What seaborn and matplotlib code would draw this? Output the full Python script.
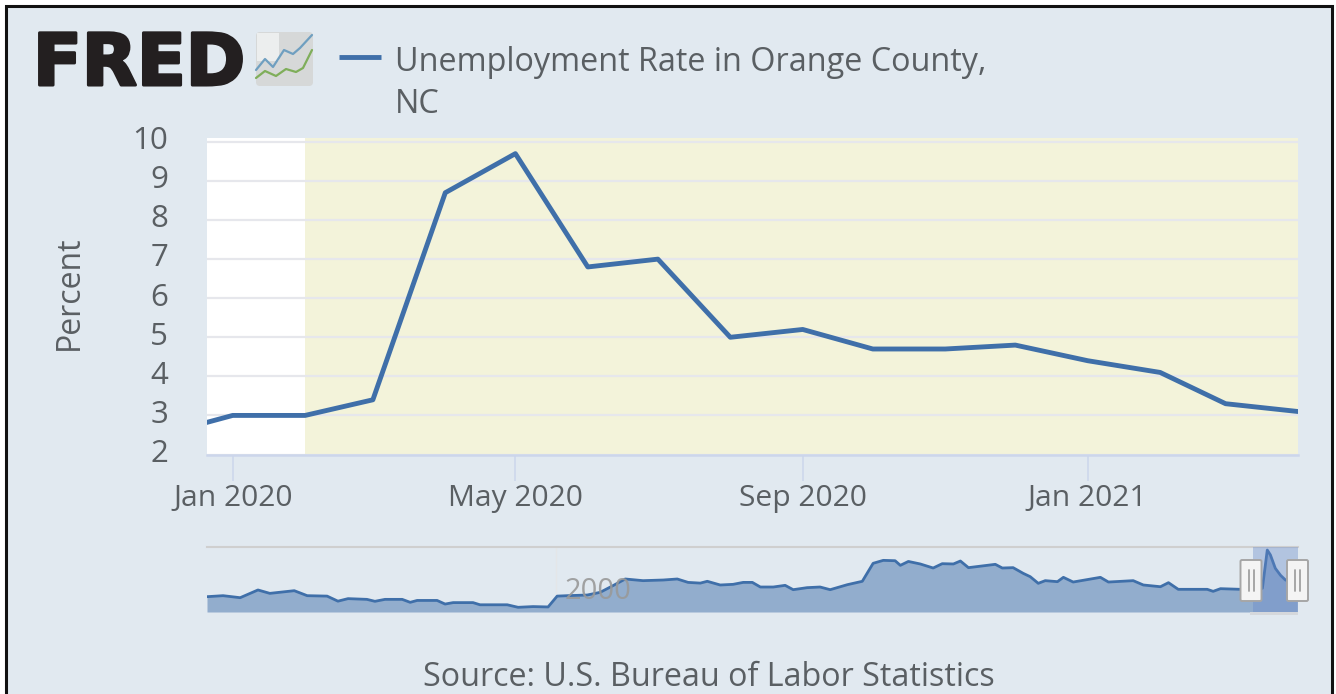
import numpy as np
import pandas as pd
import matplotlib.pyplot as plt
import matplotlib.patches as mpatches
import matplotlib.patheffects as pe
from matplotlib.transforms import ScaledTranslation
import seaborn as sns

# main series
months = ['2019-12-01', '2020-01-01', '2020-02-01', '2020-03-01', '2020-04-01', '2020-05-01',
          '2020-06-01', '2020-07-01', '2020-08-01', '2020-09-01', '2020-10-01', '2020-11-01',
          '2020-12-01', '2021-01-01', '2021-02-01', '2021-03-01', '2021-04-01']
rate = [2.5, 3.0, 3.0, 3.4, 8.7, 9.7, 6.8, 7.0, 5.0, 5.2, 4.7, 4.7, 4.8, 4.4, 4.1, 3.3, 3.1]
tick_dates = ['2020-01-01', '2020-05-01', '2020-09-01', '2021-01-01']
tick_labels = ['Jan 2020', 'May 2020', 'Sep 2020', 'Jan 2021']
y_ticks = [2, 3, 4, 5, 6, 7, 8, 9, 10]

# navigator series
nav_year = [1990.0, 1990.46, 1990.95, 1991.46, 1991.8, 1992.5, 1992.87, 1993.44, 1993.75, 1994.04,
            1994.58, 1994.81, 1995.1, 1995.59, 1995.82, 1996.02, 1996.59, 1996.82, 1997.05, 1997.62,
            1997.82, 1998.6, 1998.91, 1999.34, 1999.77, 2000.03, 2000.32, 2000.89, 2001.26, 2001.63,
            2001.98, 2002.49, 2003.07, 2003.47, 2003.78, 2004.13, 2004.33, 2004.7, 2005.07, 2005.36,
            2005.62, 2005.85, 2006.22, 2006.56, 2006.79, 2007.19, 2007.56, 2007.85, 2008.34, 2008.77,
            2009.08, 2009.37, 2009.71, 2009.86, 2010.09, 2010.43, 2010.8, 2011.06, 2011.38, 2011.58,
            2011.81, 2012.58, 2012.78, 2013.09, 2013.38, 2013.58, 2013.81, 2014.01, 2014.36, 2014.53,
            2014.81, 2015.59, 2015.82, 2016.53, 2016.82, 2017.31, 2017.54, 2017.82, 2018.65, 2018.82,
            2019.03, 2019.6, 2019.97, 2020.23, 2020.37, 2020.46, 2020.6, 2020.75, 2020.89, 2021.23]
nav_rate = [3.12, 3.26, 2.98, 4.05, 3.58, 3.95, 3.26, 3.2, 2.5, 2.85,
            2.75, 2.48, 2.75, 2.75, 2.34, 2.6, 2.6, 2.1, 2.3, 2.3,
            2.0, 2.0, 1.65, 1.75, 1.7, 3.2, 3.26, 3.35, 3.72, 4.65,
            5.57, 5.34, 5.43, 5.57, 5.1, 5.0, 5.25, 4.74, 4.83, 5.1,
            5.1, 4.46, 4.46, 4.69, 4.09, 4.37, 4.46, 4.09, 4.78, 5.25,
            7.74, 8.15, 8.1, 7.46, 8.0, 7.65, 7.09, 7.69, 7.65, 8.06,
            7.14, 7.6, 7.09, 7.14, 6.35, 5.89, 4.97, 5.34, 5.2, 5.8,
            5.15, 5.8, 5.15, 5.34, 4.74, 4.5, 5.06, 4.14, 4.14, 3.86,
            4.23, 4.14, 4.14, 4.28, 9.58, 8.9, 7.05, 6.08, 5.43, 5.0]

legend_lines = ['Unemployment Rate in Orange County,', 'NC']
source_text = 'Source: U.S. Bureau of Labor Statistics'

W, H = 1336, 694
BG = '#E1E9F0'
LINE = '#3F6FA9'
TXT = '#5A5F63'
AXC = '#CCD6EB'


def px_axes(fig, x0, y0, x1, y1, **kw):
    # axes from pixel box, y counted from the top
    return fig.add_axes([x0 / W, 1 - y1 / H, (x1 - x0) / W, (y1 - y0) / H], **kw)


sns.set_theme(style='white')
plt.rcParams['font.family'] = ['Open Sans', 'DejaVu Sans']

fig = plt.figure(figsize=(W / 100, H / 100), dpi=100, facecolor='white')

# background panel with black frame, open at the bottom of the picture
back = fig.add_axes([0, 0, 1, 1], zorder=0)
back.set_xlim(0, W)
back.set_ylim(H, 0)
back.axis('off')
back.add_patch(mpatches.Rectangle((6, 6), 1326, 700, facecolor=BG, edgecolor='#111111', linewidth=2.2))

# main chart
df = pd.DataFrame({'date': pd.to_datetime(months), 'rate': rate})
ax = px_axes(fig, 207, 138, 1298, 454.5, zorder=2)
ax.set_facecolor('white')
ax.axvspan(pd.Timestamp('2020-02-01'), pd.Timestamp('2021-04-01'), color='#F3F3DA', lw=0, zorder=0.2)
sns.lineplot(data=df, x='date', y='rate', ax=ax, color=LINE, linewidth=3.5, legend=False, zorder=3)
ax.set_xlim(pd.Timestamp('2019-12-21'), pd.Timestamp('2021-04-01'))
ax.set_ylim(2, 10.1)
ax.set_axisbelow(True)
ax.yaxis.grid(True, color='#E6E7EC', linewidth=1.6)
ax.xaxis.grid(False)
ax.set_xticks(pd.to_datetime(tick_dates))
ax.set_xticklabels(tick_labels)
ax.set_yticks(y_ticks)
ax.set_xlabel('')
ax.set_ylabel('')
ax.tick_params(axis='x', length=18.5, width=1.1, color=AXC, labelsize=21.6, labelcolor=TXT, pad=3, bottom=True)
ax.tick_params(axis='y', length=0, labelsize=22.5, labelcolor=TXT, pad=28)
for lab in ax.get_yticklabels():
    lab.set_transform(lab.get_transform() + ScaledTranslation(0, 3 / 72, fig.dpi_scale_trans))
for side in ['top', 'left', 'right']:
    ax.spines[side].set_visible(False)
ax.spines['bottom'].set_color(AXC)
ax.spines['bottom'].set_linewidth(1.8)

# navigator
nav = px_axes(fig, 207, 547, 1298, 612, zorder=2)
nav.patch.set_alpha(0)
nav_df = pd.DataFrame({'year': nav_year, 'rate': nav_rate})
nav.fill_between(nav_df['year'], 1, nav_df['rate'], color='#92ADCD', lw=0, zorder=1)
sns.lineplot(data=nav_df, x='year', y='rate', ax=nav, color=LINE, linewidth=2.0, legend=False, zorder=2)
nav.set_xlim(1990, 2021.25)
nav.set_ylim(1, 10)
nav.axvline(2000, color='#E4E6E8', linewidth=1, zorder=0)
nav.axvspan(2019.97, 2021.25, color='#6688C8', alpha=0.38, lw=0, zorder=3)
nav.text(2000.25, 3.9, '2000', fontsize=21, color='#999999', alpha=0.9, va='center', ha='left', zorder=4)
nav.set_xticks([])
nav.set_yticks([])
nav.set_xlabel('')
nav.set_ylabel('')
for side in ['left', 'right', 'bottom']:
    nav.spines[side].set_visible(False)
nav.spines['top'].set_color('#CFCFCF')
nav.spines['top'].set_linewidth(1.5)

# logo, legend, labels, navigator handles
top = fig.add_axes([0, 0, 1, 1], zorder=5)
top.set_xlim(0, W)
top.set_ylim(H, 0)
top.axis('off')
top.patch.set_alpha(0)

fred = top.text(33, 85, 'FRED', fontsize=51.5, fontweight='bold', family='DejaVu Sans', color='#231F20',
                va='baseline', ha='left')
fred.set_path_effects([pe.withStroke(linewidth=2.2, foreground='#231F20')])
top.add_patch(mpatches.FancyBboxPatch((256, 32), 57, 54, boxstyle='round,pad=0,rounding_size=4',
                                      facecolor='#D6D8D8', edgecolor='none'))
top.add_patch(mpatches.Rectangle((257, 33), 22, 28, facecolor='#ECEEEE', edgecolor='none'))
top.plot([256, 265, 273, 284, 293, 300, 312], [70, 59, 67, 50, 54, 48, 35], color='#6F9FC0', lw=1.6)
top.plot([256, 265, 276, 286, 296, 303, 312], [78, 71, 76, 69, 72, 68, 50], color='#7FAE5A', lw=1.6)

top.plot([339, 381], [57, 57], color=LINE, linewidth=3.5, solid_capstyle='butt')
top.text(395, 62, legend_lines[0], fontsize=23.3, color=TXT, va='center', ha='left')
top.text(395, 104, legend_lines[1], fontsize=23.3, color=TXT, va='center', ha='left')

top.text(69, 293, 'Percent', fontsize=23, color=TXT, rotation=90, va='center', ha='center')
top.text(709, 677, source_text, fontsize=23.2, color=TXT, va='center', ha='center')

top.add_patch(mpatches.Rectangle((1250, 612), 48, 3, facecolor='#D5D8DC', edgecolor='none'))
for hx in [1240.5, 1287]:
    top.add_patch(mpatches.FancyBboxPatch((hx, 560), 21, 41, boxstyle='round,pad=0,rounding_size=1.5',
                                          facecolor='#F4F4F4', edgecolor='#A6A6A6', linewidth=1.4))
    top.plot([hx + 8, hx + 8], [570, 591], color='#A0A0A0', lw=1.3)
    top.plot([hx + 13, hx + 13], [570, 591], color='#A0A0A0', lw=1.3)

fig.savefig('out.png', dpi=100)
